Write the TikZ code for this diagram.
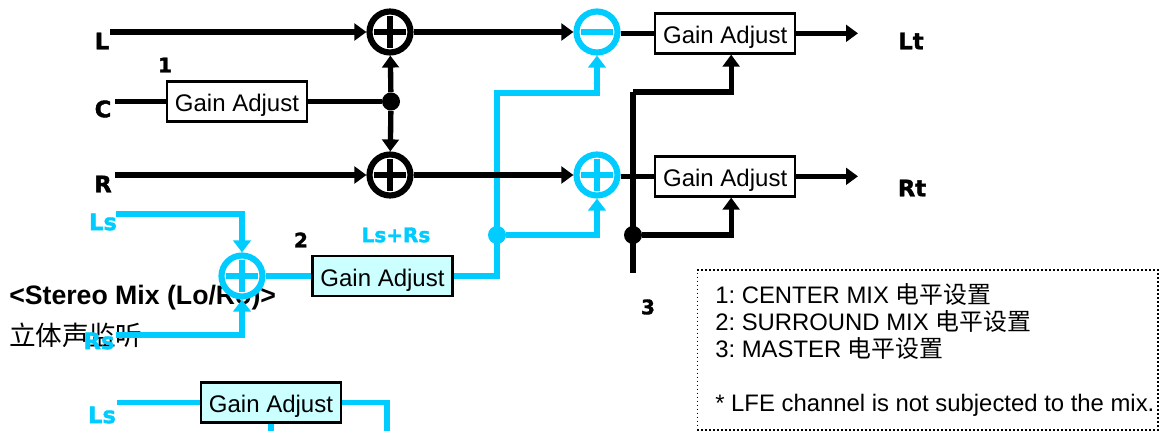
\documentclass[tikz,border=0pt]{standalone}
\usepackage{fontspec}
\setmainfont{Liberation Sans}
\newfontfamily\labelfont[FakeBold=1.6]{DejaVu Sans Bold}
\newfontfamily\cjkfont{Noto Sans CJK SC}
\usetikzlibrary{positioning,arrows.meta,calc}
\definecolor{MixCyan}{RGB}{0,204,255}
\definecolor{MixPale}{RGB}{204,255,255}
\frenchspacing

\begin{document}
\begin{tikzpicture}[
      x=0.75pt, y=-0.75pt,
      font=\fontsize{18}{20.25}\selectfont,
      gainbox/.style={draw=black, line width=1.9pt, fill=white, minimum width=105pt,
                      minimum height=30pt, inner sep=0pt, text height=15.5pt, text depth=0pt},
      gainblue/.style={gainbox, fill=MixPale},
      sumcircle/.style={circle, draw=#1, line width=4.6pt, minimum size=30.75pt, inner sep=0pt, fill=white},
      sumplus/.style={sumcircle=#1, path picture={
          \draw[#1, line width=4.2pt] ([xshift=-12pt]path picture bounding box.center) -- ([xshift=12pt]path picture bounding box.center);
          \draw[#1, line width=4.2pt] ([yshift=-12pt]path picture bounding box.center) -- ([yshift=12pt]path picture bounding box.center);}},
      summinus/.style={sumcircle=#1, path picture={
          \draw[#1, line width=4.2pt] ([xshift=-12pt]path picture bounding box.center) -- ([xshift=12pt]path picture bounding box.center);}},
      joint/.style={circle, fill=#1, minimum size=13.5pt, inner sep=0pt},
      sig/.style={line width=4pt, draw=black},
      sigblue/.style={line width=4.3pt, draw=MixCyan},
      arrow/.style={sig, -{Triangle[length=9pt,width=12.5pt]}},
      arrowblue/.style={sigblue, -{Triangle[length=9pt,width=13pt]}},
      chan/.style={font=\labelfont\fontsize{17}{19}\selectfont, inner sep=0pt},
      chanblue/.style={chan, text=MixCyan},
      num/.style={font=\labelfont\fontsize{15}{17}\selectfont, inner sep=0pt},
      note/.style={draw=black, dotted, line width=1pt, minimum width=345.5pt, minimum height=120pt, inner sep=0pt}
    ]
    \useasboundingbox (0,0) rectangle (1160,431);

    \node[font=\bfseries\fontsize{20}{22}\selectfont, anchor=base west, inner sep=0pt] (title) at (9,304) {<Stereo Mix (Lo/Ro)>};
    \node[font=\cjkfont\fontsize{20}{22}\selectfont, anchor=base west, inner sep=0pt] (titlecn) at (9,345) {立体声监听};

    \node[chan] (inL) at (102,41) {L};
    \node[chan] (inC) at (103,109) {C};
    \node[chan] (inR) at (103,184) {R};
    \node[chanblue] (inLs) at (103,222) {Ls};
    \node[chanblue] (inRs) at (99,341) {Rs};
    \node[chanblue] (inLsb) at (102,415) {Ls};
    \node[num, text=MixCyan] (mixLsRs) at (396,235) {Ls+Rs};
    \node[chan] (outLt) at (911,41) {Lt};
    \node[chan] (outRt) at (912,188) {Rt};
    \node[num] (numA) at (165,65) {1};
    \node[num] (numB) at (301,240) {2};
    \node[num] (numC) at (648,307) {3};

    \node[sumplus=black] (sumL) at (390,32) {};
    \node[sumplus=black] (sumR) at (390,175) {};
    \node[summinus=MixCyan] (subLt) at (597,32) {};
    \node[sumplus=MixCyan] (addRt) at (597,175) {};
    \node[sumplus=MixCyan] (sumS) at (242,276) {};

    \node[gainbox] (gainC) at (237,101.5) {Gain Adjust};
    \node[gainbox, right=25pt of subLt, yshift=-1pt] (gainLt) {Gain Adjust};
    \node[gainbox, right=25pt of addRt, yshift=-1pt] (gainRt) {Gain Adjust};
    \node[gainblue] (gainS) at (382.5,276) {Gain Adjust};
    \node[gainblue] (gainB) at (271,402.5) {Gain Adjust};

    \node[joint=black] (jointC) at (391,101.5) {};
    \node[joint=MixCyan] (jointS) at (497,235) {};
    \node[joint=black] (jointM) at (633,235) {};

    \coordinate (startLs) at (116,214);
    \coordinate (startRs) at (116,335);
    \coordinate (startLsb) at (117,402.5);
    \coordinate (startL) at (110,32);
    \coordinate (startC) at (115,101.5);
    \coordinate (startR) at (115,175);
    \coordinate (endX) at (858,0);
    \coordinate (barTop) at (633,92);
    \coordinate (barEnd) at (633,273);
    \coordinate (cornerS) at (497,276);
    \coordinate (cornerT) at (497,93);
    \coordinate (cutA) at (387,431);
    \coordinate (cutB) at (271,431);

    \draw[arrowblue] (gainS.east) -- (cornerS) -- (cornerT) -| (subLt.south);
    \draw[arrowblue] (jointS) -| (addRt.south);
    \draw[arrowblue] (startLs) -| (sumS.north);
    \draw[arrowblue] (startRs) -| (sumS.south);
    \draw[sigblue] (sumS) -- (gainS);
    \draw[sigblue] (startLsb) -- (gainB);
    \draw[sigblue] (gainB.east) -| (cutA);
    \draw[sigblue] (gainB.south) -- (cutB);

    \draw[arrow] (startL) -- (sumL);
    \draw[arrow] (startR) -- (sumR);
    \draw[sig] (startC) -- (gainC);
    \draw[sig] (gainC) -- (jointC);
    \draw[arrow] (jointC) -- (sumL);
    \draw[arrow] (jointC) -- (sumR);
    \draw[arrow] (sumL) -- (subLt);
    \draw[arrow] (sumR) -- (addRt);
    \draw[sig] (subLt.east |- gainLt) -- (gainLt);
    \draw[sig] (addRt.east |- gainRt) -- (gainRt);
    \draw[arrow] (gainLt) -- (gainLt -| endX);
    \draw[arrow] (gainRt) -- (gainRt -| endX);
    \draw[sig] (barTop) -- (barEnd);
    \draw[arrow] (barTop) -| ([xshift=4.5pt]gainLt.south);
    \draw[arrow] (jointM) -| ([xshift=4.5pt]gainRt.south);

    \node[note] (legend) at (927.5,350) {};
    \node[anchor=north west, inner sep=0pt, align=left, font=\fontsize{17.9}{20.25}\selectfont] (legendtext) at (715,283) {1: CENTER MIX {\cjkfont 电平设置}\\2: SURROUND MIX {\cjkfont 电平设置}\\3: MASTER {\cjkfont 电平设置}\\[20.25pt]* LFE channel is not subjected to the mix.};
  \end{tikzpicture}
\end{document}
